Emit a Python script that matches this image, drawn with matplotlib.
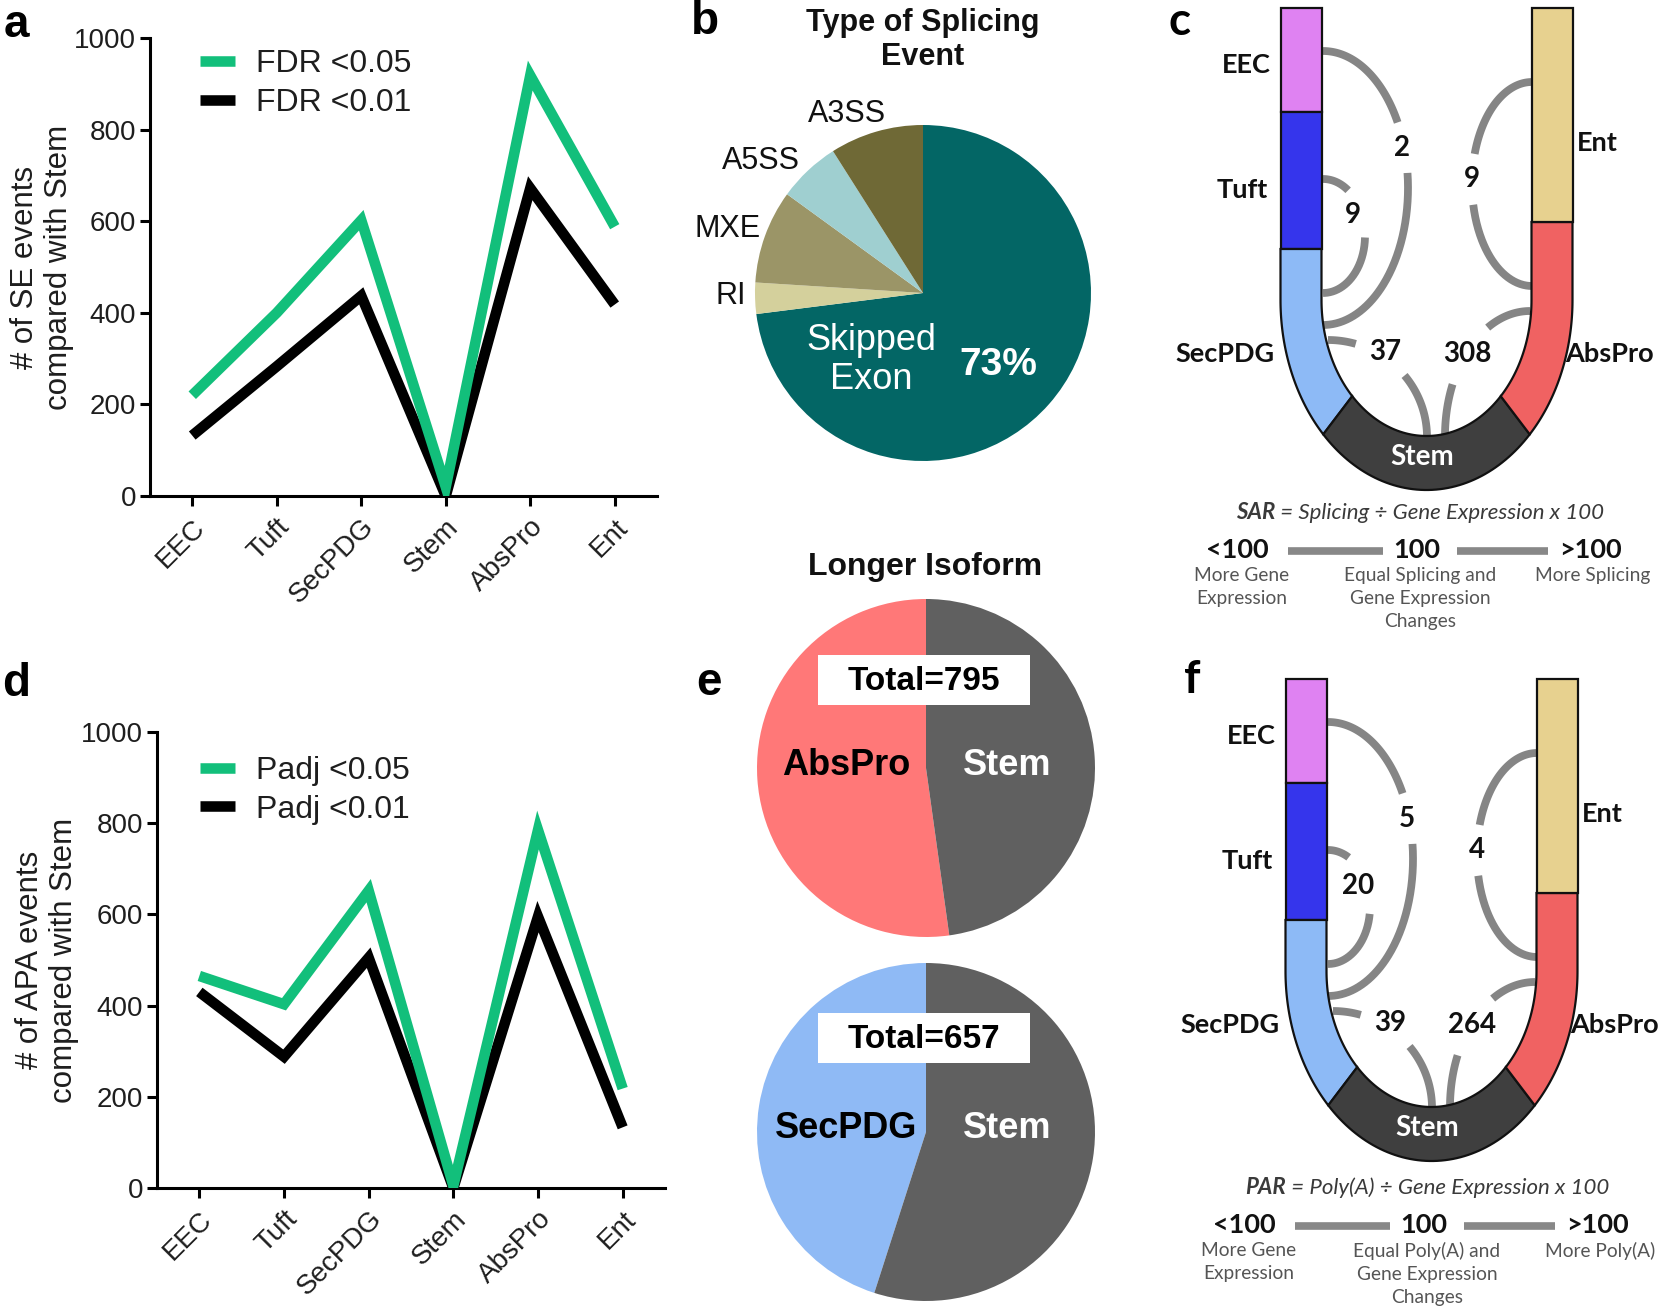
import numpy as np
import matplotlib
matplotlib.use("Agg")
import matplotlib.pyplot as plt
from matplotlib.patches import Polygon, Rectangle

# ---------------- data ----------------
cell_types = ["EEC", "Tuft", "SecPDG", "Stem", "AbsPro", "Ent"]
se_fdr05 = [220, 400, 602, 20, 918, 588]
se_fdr01 = [132, 283, 437, 0, 672, 418]
apa_padj05 = [465, 403, 652, 5, 785, 218]
apa_padj01 = [430, 288, 505, 0, 595, 133]

splice_types = ["Skipped\nExon", "RI", "MXE", "A5SS", "A3SS"]
splice_pct = [73, 3, 9, 6, 9]

iso1_labels = ["AbsPro", "Stem"]
iso1_counts = [415, 380]
iso2_labels = ["SecPDG", "Stem"]
iso2_counts = [296, 361]

u_pairs = ["EEC-SecPDG", "Tuft-SecPDG", "Ent-AbsPro", "SecPDG-Stem", "AbsPro-Stem"]
sar_counts = [2, 9, 9, 37, 308]
par_counts = [5, 20, 4, 39, 264]

# ---------------- setup ----------------
W, H, DPI = 1667, 1315, 100
ARIAL = "Liberation Sans"
CAL = "Lato"
plt.rcParams['font.family'] = [ARIAL, 'DejaVu Sans']
GREEN = "#12BF7B"
TXT = "#1e1e1e"

fig = plt.figure(figsize=(W / DPI, H / DPI), dpi=DPI)
fig.patch.set_facecolor("white")


def px_axes(x0, y0, x1, y1):
    return fig.add_axes([x0 / W, 1 - y1 / H, (x1 - x0) / W, (y1 - y0) / H])


def line_panel(box, s05, s01, leg_labels, ylabel, ylab_x, leg_anchor):
    ax = px_axes(*box)
    x = np.arange(len(cell_types))
    kw = dict(lw=7.6, solid_joinstyle="miter", solid_capstyle="butt")
    l1, = ax.plot(x, s01, color="black", zorder=3, label=leg_labels[1], **kw)
    l0, = ax.plot(x, s05, color=GREEN, zorder=4, label=leg_labels[0], **kw)
    ax.set_xlim(-0.5, 5.5)
    ax.set_ylim(0, 1000)
    ax.set_yticks(range(0, 1001, 200))
    ax.set_xticks(x)
    ax.set_xticklabels(cell_types, rotation=45, ha="right", rotation_mode="anchor")
    for s in ("top", "right"):
        ax.spines[s].set_visible(False)
    for s in ("left", "bottom"):
        ax.spines[s].set_linewidth(2.2)
    ax.tick_params(length=7, width=2.2, labelsize=20, labelcolor=TXT, pad=3)
    ax.tick_params(axis="x", pad=6)
    ax.set_facecolor("none")
    ax.legend([l0, l1], leg_labels, loc="upper left", bbox_to_anchor=leg_anchor,
              frameon=False, prop={"family": ARIAL, "size": 23}, handlelength=1.1,
              handletextpad=0.65, labelspacing=0.28, borderpad=0, borderaxespad=0,
              labelcolor=TXT)
    cy = (box[1] + box[3]) / 2
    fig.text(ylab_x / W, 1 - cy / H, ylabel, rotation=90, ha="center", va="center",
             fontsize=22.5, color=TXT, linespacing=1.2, multialignment="center")
    return ax


# panel a
line_panel((150, 38, 657, 496), se_fdr05, se_fdr01, ["FDR <0.05", "FDR <0.01"],
           "# of SE events\ncompared with Stem", 42, (0.098, 0.975))
# panel d
line_panel((157, 732, 665, 1188), apa_padj05, apa_padj01, ["Padj <0.05", "Padj <0.01"],
           "# of APA events\ncompared with Stem", 47, (0.085, 0.948))

# panel b pie
r = 168
bx, by = 923, 293
axb = px_axes(bx - r, by - r, bx + r, by + r)
axb.pie(splice_pct, colors=["#036665", "#d4d09c", "#9b9567", "#9fcfd0", "#6f6936"],
        startangle=90, counterclock=False, radius=1, wedgeprops=dict(linewidth=0))
axb.set_xlim(-1, 1)
axb.set_ylim(-1, 1)
axb.set_axis_off()

# panel e pies
rr = 169
ex = 926
ax_e1 = px_axes(ex - rr, 768 - rr, ex + rr, 768 + rr)
ax_e1.pie(iso1_counts, colors=["#ff7878", "#606060"], startangle=90, counterclock=True,
          wedgeprops=dict(linewidth=0))
ax_e1.set_xlim(-1, 1); ax_e1.set_ylim(-1, 1); ax_e1.set_axis_off()
ax_e2 = px_axes(ex - rr, 1132 - rr, ex + rr, 1132 + rr)
ax_e2.pie(iso2_counts, colors=["#8fbaf5", "#606060"], startangle=90, counterclock=True,
          wedgeprops=dict(linewidth=0))
ax_e2.set_xlim(-1, 1); ax_e2.set_ylim(-1, 1); ax_e2.set_axis_off()

# ---------------- overlay (pixel coordinates) ----------------
ov = fig.add_axes([0, 0, 1, 1])
ov.set_xlim(0, W)
ov.set_ylim(H, 0)
ov.set_axis_off()

# panel letters
for ch, x, y, fam in [("a", 16, 25, ARIAL), ("b", 705, 22, ARIAL), ("c", 1180, 22, CAL),
                      ("d", 16, 684, ARIAL), ("e", 709, 683, ARIAL), ("f", 1192, 680, CAL)]:
    ov.text(x, y, ch, fontsize=33, fontweight="bold", family=fam, ha="center", va="center",
            color="black")

# panel b texts
ov.text(923, 40, "Type of Splicing\nEvent", fontsize=22, fontweight="bold", ha="center",
        va="center", linespacing=1.15, color="#111")
lab_pos = {"A3SS": (886, 114), "A5SS": (800, 161), "MXE": (761, 229), "RI": (746, 296)}
for name in splice_types[1:]:
    x, y = lab_pos[name]
    ov.text(x, y, name, fontsize=22, ha="right", va="center", color="#111")
ov.text(871, 360, splice_types[0], fontsize=26, ha="center", va="center", color="white",
        linespacing=1.15)
ov.text(998, 365, f"{splice_pct[0]}%", fontsize=28, fontweight="bold", ha="center",
        va="center", color="white")

# panel e texts
ov.text(925, 567, "Longer Isoform", fontsize=23, fontweight="bold", ha="center", va="center",
        color="#111")
for (cy, labels, counts, boxy) in [(768, iso1_labels, iso1_counts, 655),
                                   (1132, iso2_labels, iso2_counts, 1013)]:
    ov.add_patch(Rectangle((818, boxy), 212, 50, facecolor="white", edgecolor="none"))
    ov.text(924, boxy + 26, f"Total={sum(counts)}", fontsize=24, fontweight="bold",
            ha="center", va="center", color="black")
    ov.text(846, cy - 3, labels[0], fontsize=26, fontweight="bold", ha="center", va="center",
            color="black")
    ov.text(1007, cy - 3, labels[1], fontsize=26, fontweight="bold", ha="center", va="center",
            color="white")

# ---------------- U diagrams ----------------
SEG_COL = {"EEC": "#df82f2", "Tuft": "#3535ec", "SecPDG": "#8dbaf6", "Stem": "#3f3f3f",
           "AbsPro": "#f06262", "Ent": "#e7d18f"}
ARC_COL = "#858585"


def gapped(pts, center, rad):
    d = np.hypot(pts[:, 0] - center[0], pts[:, 1] - center[1])
    idx = np.where(d > rad)[0]
    if len(idx) == 0:
        return
    runs = np.split(idx, np.where(np.diff(idx) != 1)[0] + 1)
    for run in runs:
        if len(run) > 1:
            ov.plot(pts[run, 0], pts[run, 1], color=ARC_COL, lw=5.6,
                    solid_capstyle="butt", zorder=2)


def u_diagram(ox, oy, counts):
    cx, top, yc = 1426.5 + ox, 8 + oy, 300 + oy
    a0, a1, b0, b1 = 146, 105, 190, 136
    L0, L1, R1, R0 = cx - a0, cx - a1, cx + a1, cx + a0

    def arc(t1, t2, a, b, n=60):
        th = np.radians(np.linspace(t1, t2, n))
        return [(cx + a * np.sin(t), yc + b * np.cos(t)) for t in th]

    y_eec, y_tuft, y_ent = 112 + oy, 249 + oy, 222 + oy
    segs = {
        "EEC": [(L0, top), (L1, top), (L1, y_eec), (L0, y_eec)],
        "Tuft": [(L0, y_eec), (L1, y_eec), (L1, y_tuft), (L0, y_tuft)],
        "SecPDG": [(L0, y_tuft)] + arc(-90, -45, a0, b0) + arc(-45, -90, a1, b1) + [(L1, y_tuft)],
        "Stem": arc(-45, 45, a0, b0) + arc(45, -45, a1, b1),
        "AbsPro": [(R0, y_ent)] + arc(90, 45, a0, b0) + arc(45, 90, a1, b1) + [(R1, y_ent)],
        "Ent": [(R1, top), (R0, top), (R0, y_ent), (R1, y_ent)],
    }
    for name, pts in segs.items():
        ov.add_patch(Polygon(pts, closed=True, facecolor=SEG_COL[name], edgecolor="#111",
                             lw=1.6, zorder=3, joinstyle="miter"))
    ov.text(cx - 4, 457 + oy, "Stem", family=CAL, fontweight="bold", fontsize=20,
            color="white", ha="center", va="center", zorder=5)
    for name, x, y, ha in [("EEC", 1271, 65, "right"), ("Tuft", 1268, 190, "right"),
                           ("SecPDG", 1275, 354, "right"), ("Ent", 1577, 143, "left"),
                           ("AbsPro", 1565, 354, "left")]:
        ov.text(x + ox, y + oy, name, family=CAL, fontweight="bold", fontsize=19.5,
                color="#111", ha=ha, va="center")

    t = np.radians(np.linspace(90, -90, 300))
    q = np.radians(np.linspace(0, 90, 200))
    arcs = {
        "EEC-SecPDG": np.column_stack([1323 + 85 * np.cos(t), 188 - 137 * np.sin(t)]),
        "Tuft-SecPDG": np.column_stack([1323 + 42 * np.cos(t), 236 - 57 * np.sin(t)]),
        "Ent-AbsPro": np.column_stack([1532 - 60 * np.cos(t), 184 - 102 * np.sin(t)]),
        "SecPDG-Stem": np.column_stack([1328 + 99 * np.sin(q), 437 - 97 * np.cos(q)]),
        "AbsPro-Stem": np.column_stack([1530 - 85 * np.sin(q), 436 - 125 * np.cos(q)]),
    }
    lab = {"EEC-SecPDG": (1402, 148), "Tuft-SecPDG": (1353, 215), "Ent-AbsPro": (1472, 179),
           "SecPDG-Stem": (1385, 352), "AbsPro-Stem": (1467, 354)}
    for pair, n in zip(u_pairs, counts):
        pts = arcs[pair] + np.array([ox, oy])
        lx, ly = lab[pair][0] + ox, lab[pair][1] + oy
        s = str(n)
        gapped(pts, (lx, ly), {1: 25, 2: 30, 3: 33}[len(s)])
        ov.text(lx, ly, s, family=CAL, fontweight="bold", fontsize=20, color="#111",
                ha="center", va="center", zorder=5)


def key_block(ox, oy, name, what, equal_txt, more_txt):
    gray = "#3a3a3a"
    t1 = ov.text(0, 519 + oy, name, family=CAL, fontstyle="italic", fontweight="bold",
                 fontsize=16, color=gray, ha="left", va="baseline")
    t2 = ov.text(0, 519 + oy, f" = {what} \u00f7 Gene Expression x 100", family=CAL,
                 fontstyle="italic", fontsize=16, color=gray, ha="left", va="baseline")
    fig.canvas.draw()
    rend = fig.canvas.get_renderer()
    w1 = t1.get_window_extent(rend).width
    w2 = t2.get_window_extent(rend).width
    x0 = 1420 + ox - (w1 + w2) / 2
    t1.set_x(x0)
    t2.set_x(x0 + w1)
    for s, x in [("<100", 1237), ("100", 1417), (">100", 1590)]:
        ov.text(x + ox, 550 + oy, s, family=CAL, fontweight="bold", fontsize=19.5, color="#111",
                ha="center", va="center")
    for xa, xb in [(1288, 1383), (1457, 1548)]:
        ov.plot([xa + ox, xb + ox], [551 + oy, 551 + oy], color="#888888", lw=5.5,
                solid_capstyle="butt")
    sub = "#555555"
    for s, x in [("More Gene\nExpression", 1242), (equal_txt, 1420), (more_txt, 1593)]:
        ov.text(x + ox, 567 + oy, s, family=CAL, fontsize=13.8, color=sub, ha="center",
                va="top", linespacing=1.42, multialignment="center")


u_diagram(0, 0, sar_counts)
u_diagram(5, 671, par_counts)
key_block(0, 0, "SAR", "Splicing", "Equal Splicing and\nGene Expression\nChanges",
          "More Splicing")
key_block(7, 675, "PAR", "Poly(A)", "Equal Poly(A) and\nGene Expression\nChanges",
          "More Poly(A)")

fig.savefig("out.png", dpi=DPI, facecolor="white")
